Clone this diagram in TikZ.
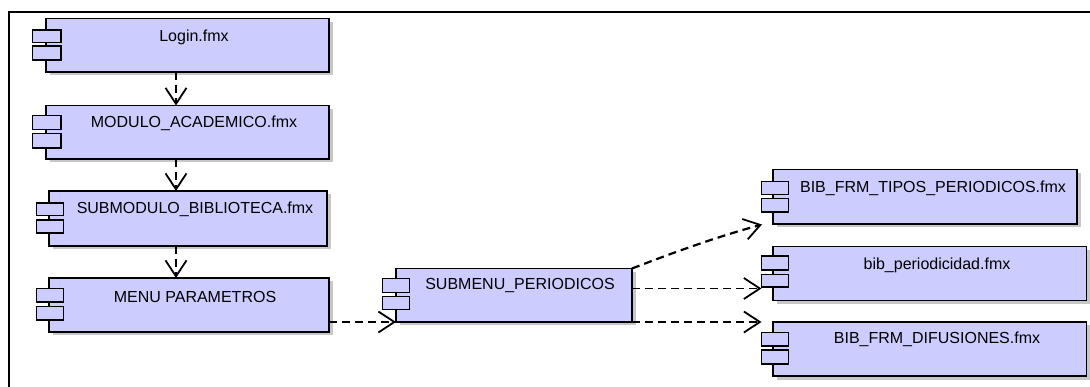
\documentclass[tikz,border=0pt]{standalone}
\usepackage{fontspec}
\setmainfont{Liberation Sans}
\usetikzlibrary{arrows.meta,shadows}
\definecolor{compfill}{HTML}{CCCCFF}
\tikzset{
  compbox/.style={draw=black,fill=compfill,line width=1.2pt,inner sep=0pt,outer sep=0pt,
    drop shadow={shadow xshift=3.5pt,shadow yshift=-3.5pt,fill=black!22,opacity=1}},
  compport/.style={draw=black,fill=compfill,line width=1.2pt,inner sep=0pt,outer sep=0pt},
  complabel/.style={font=\fontsize{16}{18}\selectfont,text=black,inner sep=0pt,yshift=-1.5pt},
  dep/.style={draw=black,dash pattern=on 8pt off 5pt,line width=#1,
    -{Straight Barb[length=16pt,width=21pt,line width=1.8pt]}},
  dep/.default=2.2pt
}
\newcommand{\rectnode}[6]{% style, name, x1, y1, x2, y2
  \pgfmathsetmacro{\rcx}{(#3+#5)/2}\pgfmathsetmacro{\rcy}{(#4+#6)/2}
  \pgfmathsetmacro{\rw}{#5-#3}\pgfmathsetmacro{\rh}{#6-#4}
  \node[#1,minimum width=\rw pt,minimum height=\rh pt] (#2) at (\rcx,\rcy) {};
}
\begin{document}
\begin{tikzpicture}[x=1pt,y=-1pt]
\useasboundingbox (0,0) rectangle (1090,387);
\fill[white] (0,0) rectangle (1090,387);
\coordinate (fa) at (9,387); \coordinate (fb) at (9,12.5); \coordinate (fc) at (1090,12.5);
\draw[line width=2pt,black] (fa) -- (fb) -- (fc);

\rectnode{compbox}{login}{46}{18.5}{329}{72}
\rectnode{compport}{loginA}{32.5}{30}{61}{42.5}
\rectnode{compport}{loginB}{32.5}{46}{61}{60}
\node[complabel] (loginT) at (194,35.5) {Login.fmx};

\rectnode{compbox}{modulo}{46}{105.5}{329}{159}
\rectnode{compport}{moduloA}{32.5}{115.5}{61}{129.5}
\rectnode{compport}{moduloB}{32.5}{133.5}{61}{148}
\node[complabel] (moduloT) at (194,122) {MODULO\_ACADEMICO.fmx};

\rectnode{compbox}{submod}{49}{191}{327}{246}
\rectnode{compport}{submodA}{36.5}{203}{63.5}{215.5}
\rectnode{compport}{submodB}{36.5}{220}{63.5}{233}
\node[complabel] (submodT) at (195,208) {SUBMODULO\_BIBLIOTECA.fmx};

\rectnode{compbox}{menu}{49}{278}{329}{332}
\rectnode{compport}{menuA}{36.5}{288.5}{63.5}{302}
\rectnode{compport}{menuB}{36.5}{306.5}{63.5}{320}
\node[complabel] (menuT) at (195,295) {MENU PARAMETROS};

\rectnode{compbox}{submenu}{396}{268.5}{632}{322}
\rectnode{compport}{submenuA}{382.5}{278.5}{409.5}{292.5}
\rectnode{compport}{submenuB}{382.5}{296.5}{409.5}{309.5}
\node[complabel] (submenuT) at (520,284) {SUBMENU\_PERIODICOS};

\rectnode{compbox}{tipos}{773}{169.5}{1077}{224}
\rectnode{compport}{tiposA}{761.5}{181.5}{788.5}{194.5}
\rectnode{compport}{tiposB}{761.5}{198.5}{788.5}{212}
\node[complabel] (tiposT) at (933,187) {BIB\_FRM\_TIPOS\_PERIODICOS.fmx};

\rectnode{compbox}{period}{773}{246.5}{1086.5}{300.5}
\rectnode{compport}{periodA}{761.5}{256}{788.5}{270}
\rectnode{compport}{periodB}{761.5}{274.5}{788.5}{287}
\node[complabel] (periodT) at (937,264) {bib\_periodicidad.fmx};

\rectnode{compbox}{difus}{773}{322}{1086.5}{376}
\rectnode{compport}{difusA}{761.5}{332.5}{788.5}{346}
\rectnode{compport}{difusB}{761.5}{350}{788.5}{364}
\node[complabel] (difusT) at (937,338) {BIB\_FRM\_DIFUSIONES.fmx};

\coordinate (col) at (176,0);
\coordinate (rowA) at (0,322);
\coordinate (rowB) at (0,288.5);
\coordinate (tipTip) at (762,224.5);
\draw[dep] (col |- login.south) -- (col |- modulo.north);
\draw[dep] (col |- modulo.south) -- (col |- submod.north);
\draw[dep] (col |- submod.south) -- (col |- menu.north);
\draw[dep] (menu.east |- rowA) -- (submenu.west |- rowA);
\draw[dep] (submenu.north east) .. controls (680,250) and (720,236) .. (tipTip);
\draw[dep=1.6pt] (submenu.east |- rowB) -- (periodB.west |- rowB);
\draw[dep] (submenu.east |- rowA) -- (difusA.west |- rowA);
\end{tikzpicture}
\end{document}
